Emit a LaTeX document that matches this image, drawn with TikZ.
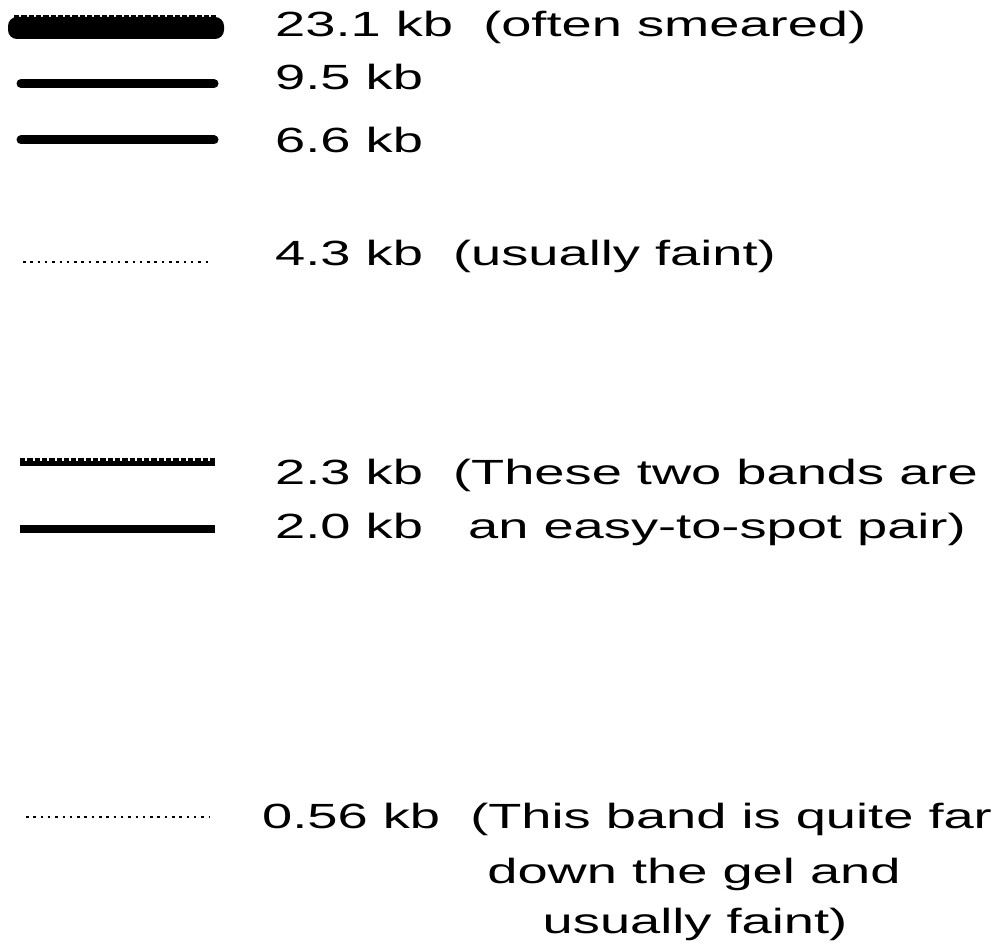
\documentclass[tikz,border=0pt]{standalone}
\usepackage{fontspec}
\newfontfamily\gelfont[FakeStretch=1.55]{Liberation Sans}

\begin{document}
\begin{tikzpicture}[x=1pt, y=-1pt,
    size/.style={anchor=base west, inner sep=0pt, font=\gelfont\fontsize{35}{42}\selectfont},
    note/.style={anchor=base, inner sep=0pt, font=\gelfont\fontsize{35}{42}\selectfont},
    strong/.style={line width=9pt, line cap=round},
    faint/.style={line width=2.5pt, dash pattern=on 2.5pt off 4.8pt},
    smear/.style={line width=3pt, dash pattern=on 5.3pt off 2pt}]
    \useasboundingbox (0,0) rectangle (993,944);
    \foreach [count=\i] \y/\txt in {37/{23.1 kb\ \ (often smeared)}, 90/{9.5 kb}, 153/{6.6 kb},
        265/{4.3 kb\ \ (usually faint)}, 484/{2.3 kb\ \ (These two bands are},
        538/{2.0 kb\ \ \ an easy-to-spot pair)}} {
      \node[size] (kb\i) at (275, \y) {\txt};
    }
    \node[size] (kb7) at (262, 828) {0.56 kb\ \ (This band is quite far};
    \node[note] (down) at (694, 883) {down the gel and};
    \node[note] (faint) at (695, 933) {usually faint)};
    % bands
    \fill[rounded corners=9pt] (8,17) rectangle (224,39);
    \draw[smear] (14,16.5) -- (218,16.5);
    \draw[strong] (21,83.5) -- (214,83.5);
    \draw[strong] (21,140) -- (214,140);
    \draw[faint] (23,262) -- (212,262);
    \draw[smear] (20,459.5) -- (215,459.5);
    \fill (20,461) rectangle (215,466);
    \fill (20,525) rectangle (215,533);
    \draw[faint] (26,817) -- (209,817);
\end{tikzpicture}
\end{document}
